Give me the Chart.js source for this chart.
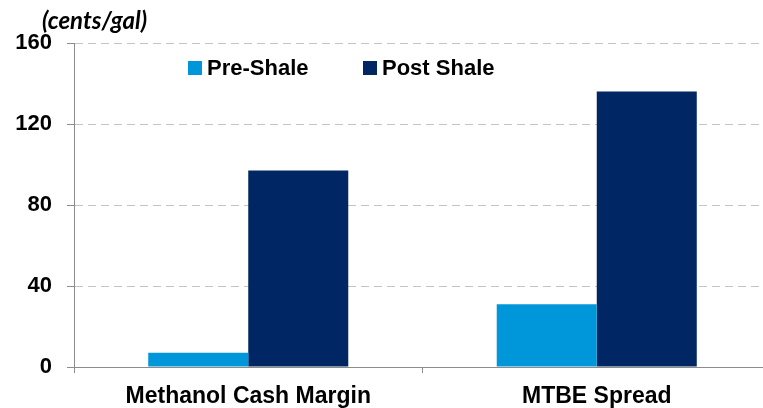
<!DOCTYPE html>
<html>
<head>
<meta charset="utf-8">
<script src="https://cdn.jsdelivr.net/npm/chart.js@4/dist/chart.umd.min.js"></script>
<style>
  html, body { margin: 0; padding: 0; background: #fff; overflow: hidden; }
  #wrap { width: 763px; height: 408px; overflow: hidden; }
</style>
</head>
<body>
<div id="wrap"><canvas id="Chart" width="780" height="408"></canvas></div>
<script>
// values (cents/gal)
var categories = ['Methanol Cash Margin', 'MTBE Spread'];
var preShale = [7, 31];
var postShale = [97, 136];
var yTicks = [0, 40, 80, 120, 160];

var preColor = '#0097da';
var postColor = '#002663';
var axisGray = '#8c8c8c';

// legend + unit label drawn in the chart area like the original
var overlay = {
	id: 'overlay',
	afterDraw: function(chart) {
		var ctx = chart.ctx;
		ctx.save();
		ctx.fillStyle = '#000';
		ctx.font = 'italic bold 24px Lato';
		ctx.textBaseline = 'alphabetic';
		ctx.fillText('(cents/gal)', 42, 29);

		var items = [[188, 207], [363, 382]];
		chart.data.datasets.forEach(function(ds, i) {
			ctx.fillStyle = ds.backgroundColor;
			ctx.fillRect(items[i][0], 61, 14, 14);
			ctx.fillStyle = '#000';
			ctx.font = 'bold 22px "Liberation Sans", Arial';
			ctx.fillText(ds.label, items[i][1], 75);
		});
		ctx.restore();
	}
};

var ctx = document.getElementById('Chart').getContext('2d');
var chart = new Chart(ctx, {
	type: 'bar',
	data: {
		labels: categories,
		datasets: [{
			label: 'Pre-Shale',
			backgroundColor: preColor,
			data: preShale
		}, {
			label: 'Post Shale',
			backgroundColor: postColor,
			data: postShale
		}]
	},
	options: {
		responsive: false,
		animation: false,
		categoryPercentage: 0.574,
		barPercentage: 1,
		layout: { padding: { top: 43, right: 9, left: 0, bottom: 0 } },
		plugins: {
			legend: { display: false },
			tooltip: { enabled: false }
		},
		scales: {
			x: {
				grid: { drawOnChartArea: false, drawTicks: true, tickLength: 6, color: axisGray, offset: true },
				border: { color: axisGray, width: 1 },
				ticks: {
					color: '#000',
					padding: 10,
					font: { family: '"Liberation Sans", Arial', size: 23, weight: 'bold' }
				},
				afterFit: function(scale) { scale.height = 41; }
			},
			y: {
				min: 0,
				max: 160,
				afterBuildTicks: function(scale) {
					scale.ticks = yTicks.map(function(v) { return { value: v }; });
				},
				grid: { color: '#c4c4c4', tickColor: axisGray, tickLength: 7 },
				border: { color: axisGray, width: 1, dash: [8, 5] },
				ticks: {
					color: '#000',
					padding: 15,
					font: { family: '"Liberation Sans", Arial', size: 22, weight: 'bold' }
				},
				afterFit: function(scale) { scale.width = 74; }
			}
		}
	},
	plugins: [overlay]
});
</script>
</body>
</html>
